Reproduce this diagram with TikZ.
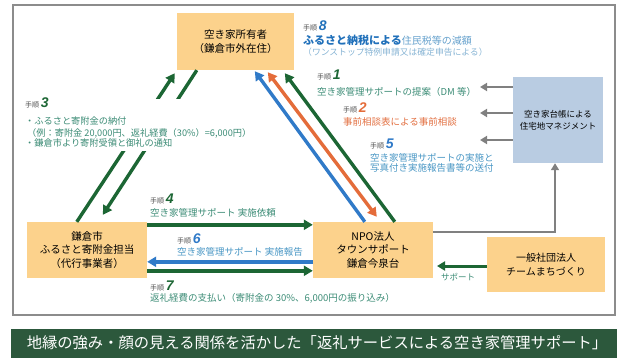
\documentclass[tikz,border=0pt]{standalone}
\usepackage{fontspec}
\setmainfont{Noto Sans CJK JP}
\newfontfamily\numfont{Liberation Sans}
\usetikzlibrary{arrows.meta,calc}
\definecolor{boxor}{RGB}{252,210,140}
\definecolor{boxbl}{RGB}{185,204,226}
\definecolor{dgreen}{RGB}{28,102,52}
\definecolor{aorange}{RGB}{228,108,58}
\definecolor{ablue}{RGB}{48,122,200}
\definecolor{tgreen}{RGB}{60,140,118}
\definecolor{tblue}{RGB}{72,150,196}
\definecolor{torange}{RGB}{226,112,66}
\definecolor{nblue}{RGB}{32,112,186}
\definecolor{lblue}{RGB}{100,160,204}
\definecolor{llblue}{RGB}{135,180,212}
\definecolor{bargreen}{RGB}{44,88,60}
\definecolor{framegray}{RGB}{140,140,140}
\definecolor{agray}{RGB}{128,128,128}
\definecolor{labgray}{RGB}{80,80,80}
\newcommand{\stepno}[2]{{\fontsize{7}{8}\selectfont\color{labgray}手順}\,{\numfont\bfseries\itshape\fontsize{14}{14}\selectfont\color{#1}#2}}
\tikzset{
  orbox/.style={fill=boxor, draw=none, align=center, inner sep=0pt, text=black, font=\fontsize{10.5}{13.5}\selectfont},
  blbox/.style={fill=boxbl, draw=none, align=center, inner sep=0pt, text=black, font=\fontsize{8.5}{12}\selectfont},
  fatarrow/.style={line width=3.4pt, -{Triangle[length=9pt,width=10pt]}},
  fatboth/.style={line width=3.4pt, {Triangle[length=9pt,width=10pt]}-{Triangle[length=9pt,width=10pt]}},
  grayarrow/.style={agray, line width=2.4pt, -{Triangle[length=7pt,width=8pt]}},
  lab/.style={anchor=base west, inner sep=0pt, font=\fontsize{9.5}{11}\selectfont},
  steplab/.style={anchor=base west, inner sep=0pt},
}
\begin{document}
\begin{tikzpicture}[x=1pt,y=-1pt]
\useasboundingbox (0,0) rectangle (617,358);
% frame
\draw[framegray, line width=1.2pt] (13,5) rectangle (615,315);
% bottom bar
\fill[bargreen] (11,329) rectangle (617,358);
\node[text=white, font=\fontsize{15.3}{17}\selectfont, inner sep=0pt] (title) at (317,343) {地縁の強み・顔の見える関係を活かした「返礼サービスによる空き家管理サポート」};
% boxes
\node[orbox, minimum width=117pt, minimum height=57pt] (own) at (235.5,41.5) {空き家所有者\\（鎌倉市外在住）};
\node[orbox, minimum width=120pt, minimum height=56pt] (kam) at (87,250) {鎌倉市\\ふるさと寄附金担当\\（代行事業者）};
\node[orbox, minimum width=120pt, minimum height=56pt] (npo) at (373,250) {NPO法人\\タウンサポート\\鎌倉今泉台};
\node[orbox, minimum width=118pt, minimum height=55pt, font=\fontsize{10}{13.5}\selectfont] (team) at (546,264.5) {一般社団法人\\チームまちづくり};
\node[blbox, minimum width=90pt, minimum height=86pt] (led) at (558,120) {空き家台帳による\\住宅地マネジメント};
% left diagonal arrows
\draw[dgreen, fatarrow] ($(kam.north west)+(50,0)$) -- ($(own.south west)+(-2,3)$);
\draw[dgreen, fatarrow] ($(own.south west)+(20,0)$) -- ($(kam.north west)+(76,-7)$);
% right diagonal arrows
\draw[ablue, fatarrow] ($(npo.north west)+(52,0)$) -- ($(own.south west)+(78,1)$);
\draw[aorange, fatboth] ($(own.south west)+(91,2)$) -- ($(npo.north west)+(64,-5)$);
\draw[dgreen, fatarrow] ($(npo.north west)+(82,0)$) -- ($(own.south west)+(108,3)$);
% horizontal arrows
\draw[dgreen, fatarrow] ($(kam.north east)+(0,3)$) -- ($(npo.north west)+(0,3)$);
\draw[ablue, fatarrow] ($(npo.north west)+(0,40)$) -- ($(kam.north east)+(0,40)$);
\draw[dgreen, fatarrow] ($(kam.north east)+(0,49)$) -- ($(npo.north west)+(0,49)$);
% gray arrows
\coordinate (g1) at (480,87);
\coordinate (g2) at (480,113);
\coordinate (g3) at (480,140);
\draw[grayarrow] (led.west |- g1) -- (g1);
\draw[grayarrow] (led.west |- g2) -- (g2);
\draw[grayarrow] (led.west |- g3) -- (g3);
\draw[grayarrow] ($(npo.north east)+(0,10)$) -| ($(led.south)+(-3,0)$);
% support arrow
\coordinate (sup1) at (437,266);
\draw[dgreen, line width=3pt, -{Triangle[length=8pt,width=9pt]}] (team.west |- sup1) -- (sup1);
\node[text=tgreen, font=\fontsize{8.5}{10}\selectfont, anchor=base west, inner sep=0pt] (suplab) at (441,280) {サポート};
% step 8
\node[steplab] (s8) at (303,31) {\stepno{nblue}{8}};
\node[anchor=base west, inner sep=0pt] (s8a) at (303,45) {{\fontsize{11}{13}\selectfont\bfseries\color{nblue}ふるさと納税による}{\fontsize{10}{13}\selectfont\color{lblue}住民税等の減額}};
\node[anchor=base west, inner sep=0pt, text=llblue, font=\fontsize{8.8}{10}\selectfont] (s8b) at (303,56) {（ワンストップ特例申請又は確定申告による）};
% step 1
\node[steplab] (s1) at (317,80) {\stepno{dgreen}{1}};
\node[lab, text=tgreen] (s1t) at (317,95.5) {空き家管理サポートの提案（DM 等）};
% step 2
\node[steplab] (s2) at (343,113) {\stepno{aorange}{2}};
\node[lab, text=torange] (s2t) at (343,125.5) {事前相談表による事前相談};
% step 5
\node[steplab] (s5) at (370,148) {\stepno{ablue}{5}};
\node[lab, text=tblue] (s5t) at (370,161.5) {空き家管理サポートの実施と};
\node[lab, text=tblue] (s5u) at (370,171.5) {写真付き実施報告書等の送付};
% step 3 (white mask over the arrows)
\fill[white] (20,99) rectangle (240,151);
\node[steplab] (s3) at (25,108) {\stepno{dgreen}{3}};
\node[lab, text=tgreen, font=\fontsize{9.2}{10}\selectfont] (s3a) at (25,125) {・ふるさと寄附金の納付};
\node[lab, text=tgreen, font=\fontsize{9.2}{10}\selectfont] (s3b) at (27,136) {（例：寄附金 20,000円、返礼経費（30\%）=6,000円）};
\node[lab, text=tgreen, font=\fontsize{9.2}{10}\selectfont] (s3c) at (25,146.5) {・鎌倉市より寄附受領と御礼の通知};
% step 4
\node[steplab] (s4) at (150,203) {\stepno{dgreen}{4}};
\node[lab, text=tgreen] (s4t) at (150,216.5) {空き家管理サポート 実施依頼};
% step 6
\node[steplab] (s6) at (177,243) {\stepno{ablue}{6}};
\node[lab, text=tblue] (s6t) at (177,255.5) {空き家管理サポート 実施報告};
% step 7
\node[steplab] (s7) at (150,290) {\stepno{dgreen}{7}};
\node[lab, text=tgreen] (s7t) at (150,301.5) {返礼経費の支払い（寄附金の 30\%、6,000円の振り込み）};
\end{tikzpicture}
\end{document}
